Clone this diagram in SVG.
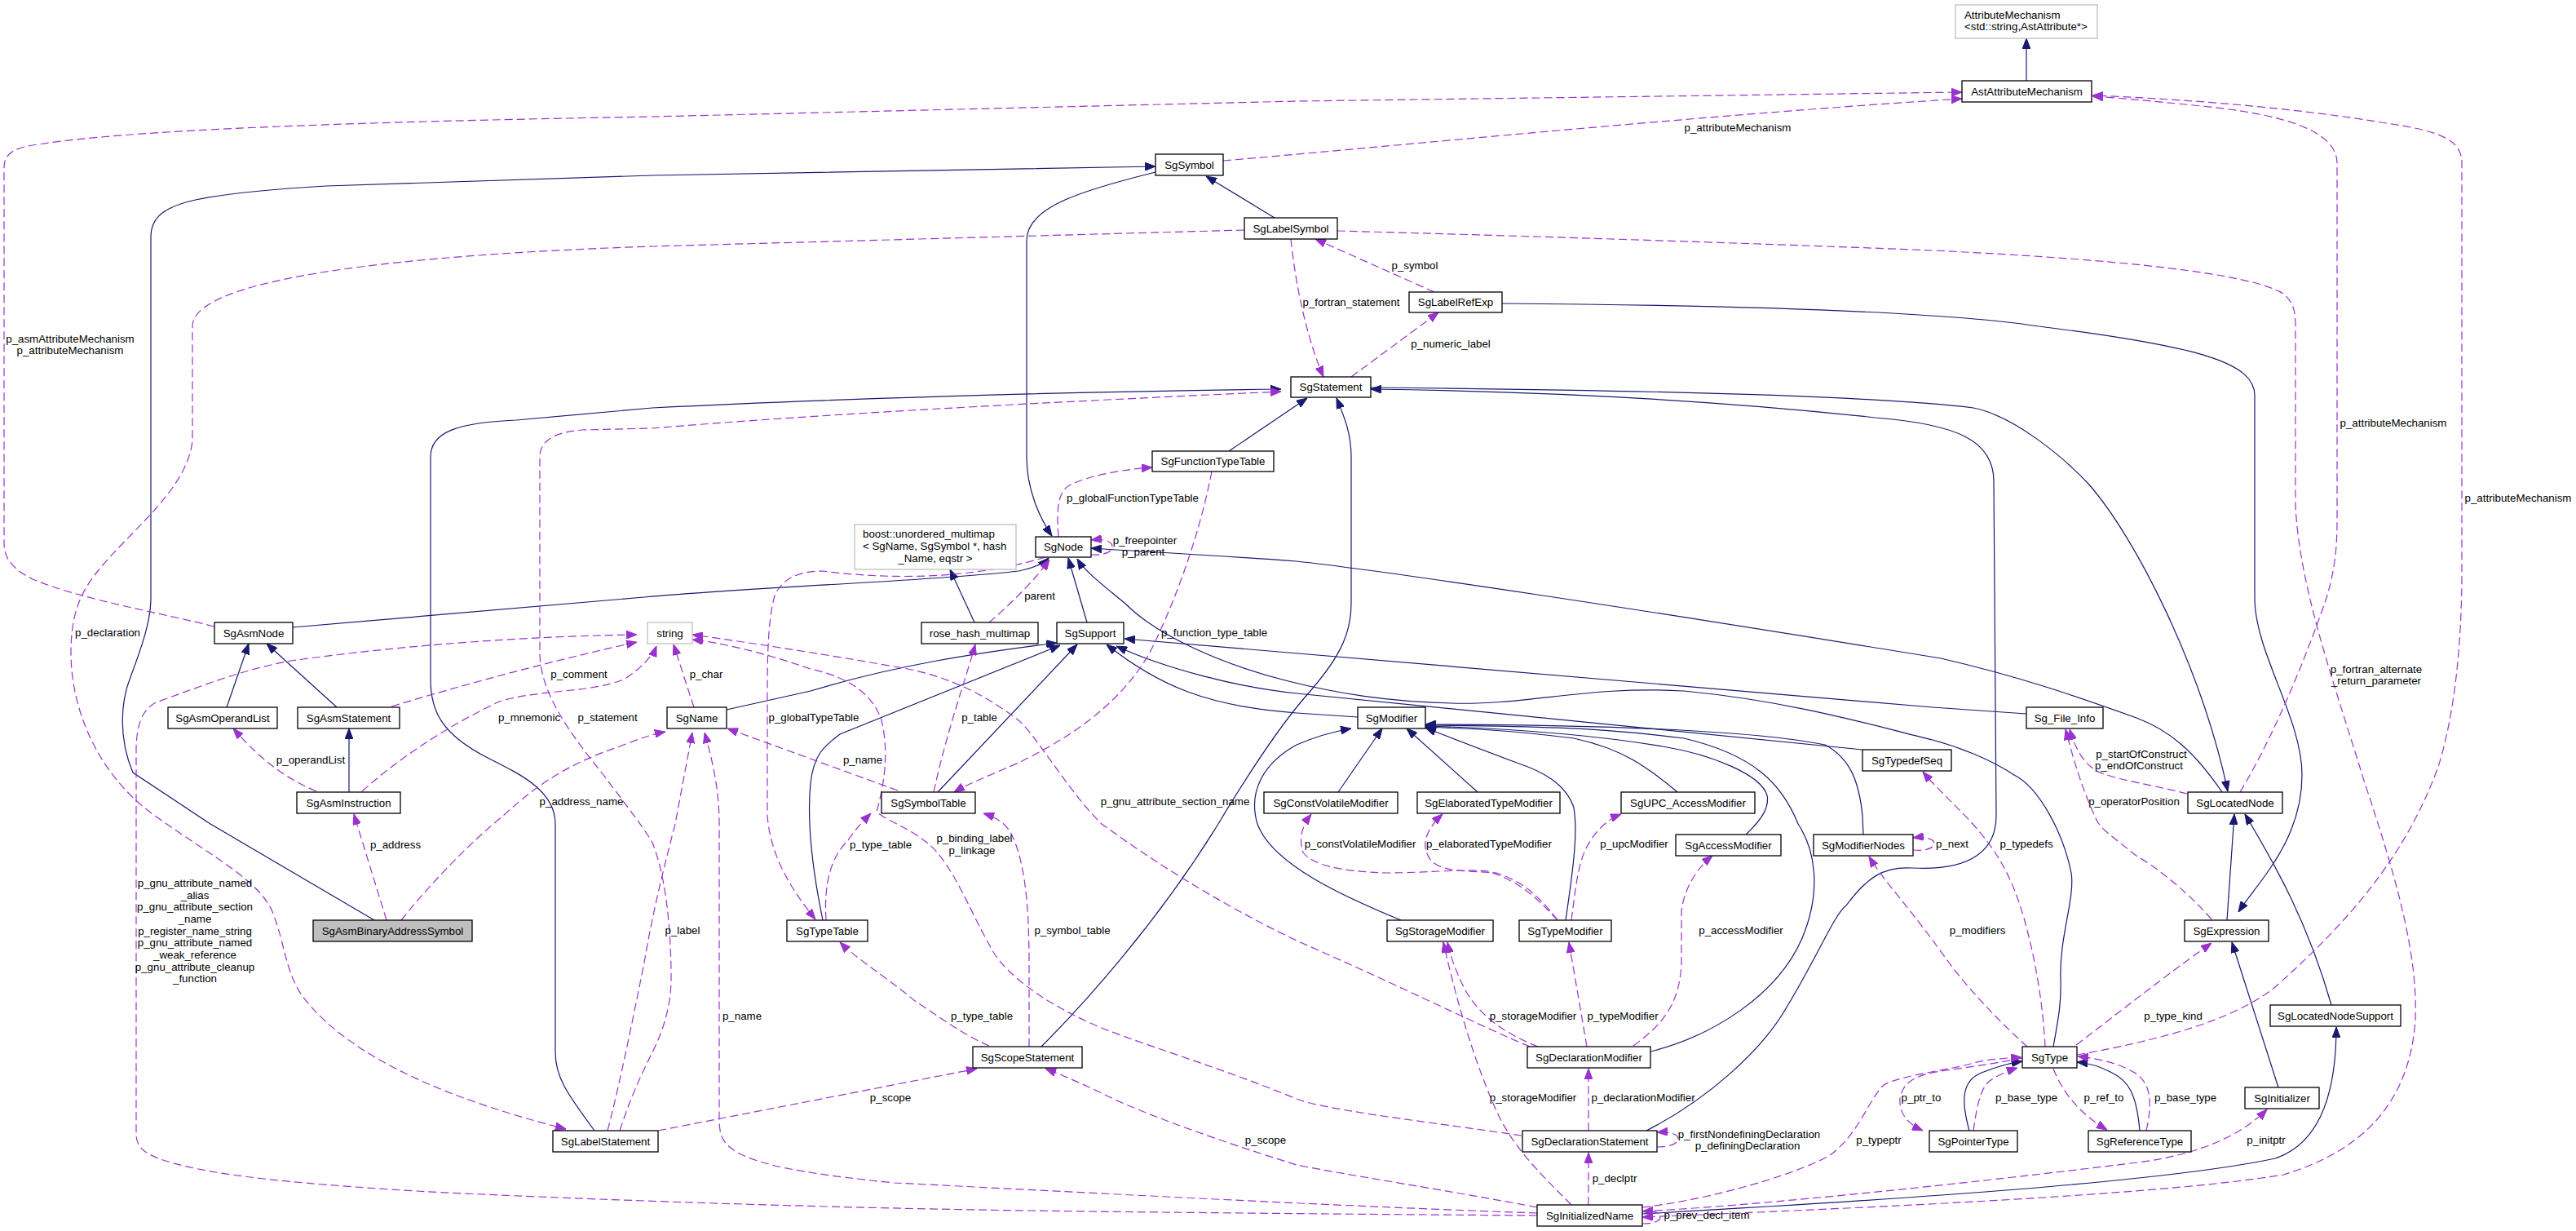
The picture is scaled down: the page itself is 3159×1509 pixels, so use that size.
<svg xmlns="http://www.w3.org/2000/svg" width="3159" height="1509" viewBox="0 0 3159 1509">
<style>
text{font-family:"Liberation Sans",Arial,Helvetica,sans-serif;font-size:13.3px;fill:#000}
.n rect{fill:#fff;stroke:#000;stroke-width:1.3}
.n.g rect{stroke:#bfbfbf}
.n.h rect{fill:#bfbfbf}
.n text{text-anchor:middle}
.e path{fill:none;stroke-width:1.2}
.e .i{stroke:#191970;marker-end:url(#ab)}
.e .u{stroke:#9a32cd;stroke-dasharray:10,5;marker-end:url(#ap)}
.lb text{text-anchor:middle}
</style>
<defs>
<marker id="ab" markerWidth="13" markerHeight="10" refX="13" refY="5" orient="auto" markerUnits="userSpaceOnUse"><path d="M0,0 L13,5 L0,10 z" fill="#191970" stroke="#191970" stroke-width="1"/></marker>
<marker id="ap" markerWidth="13" markerHeight="10" refX="13" refY="5" orient="auto" markerUnits="userSpaceOnUse"><path d="M0,0 L13,5 L0,10 z" fill="#9a32cd" stroke="#9a32cd" stroke-width="1"/></marker>
</defs>
<rect width="3159" height="1509" fill="#fff"/>
<g id="connectors" class="e">
<path class="i" d="M2485,99 L2485,47"/>
<path class="i" d="M459,1128 L258,1010 L163,947 C145,905 148,860 160,830 C175,790 185,760 185,733 L185,290 C185,250 230,238 400,228 L800,215 L1417,204"/>
<path class="i" d="M1563,267 L1479,216"/>
<path class="i" d="M1417,211 C1320,235 1259,255 1259,295 L1259,560 C1259,600 1275,635 1290,657"/>
<path class="i" d="M359,769 L790,732 C950,718 1150,712 1249,700 C1265,697 1278,692 1286,684"/>
<path class="i" d="M1333,763 L1310,684"/>
<path class="i" d="M1195,763 L1165,698"/>
<path class="i" d="M891,870 L994,847 C1100,815 1200,800 1296,788"/>
<path class="i" d="M1150,971 L1321,790"/>
<path class="i" d="M1009,1128 C995,1060 990,1000 994,960 C998,925 1010,915 1030,900 L1300,791"/>
<path class="i" d="M1507,553 L1603,488"/>
<path class="i" d="M1277,1283 C1330,1230 1420,1130 1494,1010 C1530,950 1570,890 1600,855 C1640,810 1657,780 1657,740 L1657,560 C1657,530 1648,510 1639,488"/>
<path class="i" d="M729,1386 C695,1340 681,1320 681,1290 L681,1010 C681,970 640,950 600,930 C540,900 528,870 528,833 L528,560 C528,530 560,518 633,515 L800,500 C1000,490 1300,480 1571,477"/>
<path class="i" d="M1842,372 C2100,374 2370,380 2500,400 C2700,425 2765,445 2765,485 L2765,733 C2765,800 2823,880 2823,950 C2823,1030 2770,1080 2745,1118"/>
<path class="i" d="M1681,475 C2000,478 2300,485 2420,500 C2470,510 2530,560 2561,593 C2620,660 2700,820 2732,970"/>
<path class="i" d="M2019,1386 C2090,1350 2160,1290 2192,1233 C2230,1170 2250,1120 2264,1110 C2290,1075 2310,1062 2345,1064 C2420,1068 2448,1040 2448,1000 L2445,590 C2445,540 2400,520 2300,512 C2100,490 1900,480 1681,477"/>
<path class="i" d="M2725,971 C2690,920 2660,895 2620,880 C2550,855 2480,830 2380,807 C2000,745 1700,700 1590,688 C1480,680 1400,676 1338,672"/>
<path class="i" d="M2518,1283 C2524,1250 2528,1230 2527,1200 C2525,1150 2545,1100 2540,1070 C2530,1020 2500,965 2470,950 C2440,930 2400,915 2370,907 C2300,890 2200,860 2065,847 C1950,840 1870,865 1780,862 C1700,860 1640,850 1580,835 C1500,815 1420,780 1380,740 C1350,715 1330,700 1321,685"/>
<path class="i" d="M2284,919 L1590,850 C1520,843 1430,820 1369,792"/>
<path class="i" d="M1665,879 L1590,874 C1480,866 1420,840 1357,790"/>
<path class="i" d="M2485,875 L2370,867 L1580,800 L1379,783"/>
<path class="i" d="M1641,971 L1695,893"/>
<path class="i" d="M1812,971 L1725,893"/>
<path class="i" d="M1718,1128 C1650,1100 1560,1060 1542,1010 C1530,970 1550,935 1590,913 C1620,900 1640,896 1657,893"/>
<path class="i" d="M1920,1128 C1930,1060 1935,1020 1930,990 C1920,960 1890,945 1860,935 C1820,920 1780,905 1748,892"/>
<path class="i" d="M2057,971 C2020,940 1990,918 1930,905 C1850,895 1800,893 1748,891"/>
<path class="i" d="M2141,1023 C2160,1005 2170,990 2167,975 C2160,950 2100,925 2039,915 C1950,900 1850,893 1748,890"/>
<path class="i" d="M2024,1289 C2100,1270 2180,1220 2210,1150 C2235,1090 2225,1040 2205,1010 C2185,960 2150,925 2065,905 C1950,890 1850,890 1748,889"/>
<path class="i" d="M2285,1023 L2284,1000 C2280,960 2270,930 2238,913 C2150,895 1950,888 1748,888"/>
<path class="i" d="M2415,1386 C2405,1350 2405,1325 2430,1315 C2450,1307 2465,1303 2480,1301"/>
<path class="i" d="M2624,1386 C2620,1340 2610,1325 2590,1315 C2575,1307 2560,1303 2547,1302"/>
<path class="i" d="M2731,1128 L2740,998"/>
<path class="i" d="M2859,1232 C2830,1130 2790,1060 2753,998"/>
<path class="i" d="M2794,1333 L2737,1155"/>
<path class="i" d="M2014,1488 C2300,1472 2650,1450 2790,1420 C2850,1400 2865,1330 2865,1259"/>
<path class="i" d="M278,867 L305,789"/>
<path class="i" d="M413,867 L327,789"/>
<path class="i" d="M428,971 L428,893"/>

<path class="u" d="M263,768 C200,752 100,735 40,710 C10,695 5,680 5,665 L5,205 C5,190 15,182 40,178 C150,160 400,150 800,143 L1590,124 L2406,113"/>
<path class="u" d="M1500,197 C1700,180 2100,140 2406,121"/>
<path class="u" d="M2747,971 C2790,900 2830,800 2853,733 C2866,690 2866,660 2866,630 L2866,200 C2866,160 2800,140 2700,130 C2640,124 2600,120 2566,118"/>
<path class="u" d="M2547,1293 C2650,1275 2740,1250 2790,1210 C2880,1130 2950,1050 2990,940 C3015,860 3019,760 3019,700 L3019,200 C3019,170 2990,160 2920,150 C2800,130 2650,120 2566,117"/>
<path class="u" d="M1583,293 C1590,360 1605,420 1623,462"/>
<path class="u" d="M1759,358 L1613,293"/>
<path class="u" d="M1657,462 L1764,383"/>
<path class="u" d="M1526,282 L800,302 C500,312 236,340 236,400 L236,540 C230,600 160,650 120,700 C95,730 87,760 87,800 C87,870 120,950 190,1000 C260,1050 320,1080 335,1120 C350,1160 350,1190 370,1220 C430,1300 560,1350 694,1384"/>
<path class="u" d="M1640,283 C1900,290 2200,300 2370,307 C2600,318 2760,335 2800,360 C2812,370 2815,380 2815,400 L2815,620 C2820,720 2860,830 2900,960 C2940,1080 2965,1170 2962,1250 C2955,1350 2900,1410 2800,1440 C2650,1465 2300,1480 2014,1492"/>
<path class="u" d="M1298,658 C1295,620 1298,600 1315,593 C1340,582 1380,575 1413,573"/>
<path class="u" d="M1338,680 C1355,681 1364,676 1364,670 C1364,664 1355,660 1338,662"/>
<path class="u" d="M1213,763 C1240,740 1270,710 1287,686"/>
<path class="u" d="M1486,578 C1470,660 1440,740 1410,800 C1370,870 1300,910 1249,935 C1210,952 1185,962 1170,971"/>
<path class="u" d="M1145,971 C1160,900 1185,830 1196,790"/>
<path class="u" d="M851,867 L826,790"/>
<path class="u" d="M1101,969 L892,893"/>
<path class="u" d="M1282,683 C1200,708 1100,712 1009,700 C975,700 958,712 950,730 C942,760 941,800 941,850 L941,1000 C945,1050 970,1090 1000,1127"/>
<path class="u" d="M1013,1128 C1010,1080 1020,1050 1040,1030 C1050,1015 1060,1005 1068,997"/>
<path class="u" d="M1866,1392 C1750,1375 1620,1360 1590,1347 C1500,1310 1400,1280 1351,1260 C1290,1235 1240,1200 1220,1170 C1190,1120 1170,1060 1137,1033 C1110,1012 1085,1005 1075,995 C1085,960 1090,920 1081,883 C1070,850 1040,830 994,820 C950,805 900,790 849,784"/>
<path class="u" d="M1262,1283 L1262,1180 C1262,1100 1255,1050 1239,1020 C1230,1005 1215,1000 1206,997"/>
<path class="u" d="M1213,1282 C1180,1268 1150,1245 1122,1227 C1090,1200 1050,1175 1030,1155"/>
<path class="u" d="M807,1386 L1198,1310"/>
<path class="u" d="M1885,1480 C1780,1460 1650,1440 1590,1428 C1500,1400 1400,1365 1351,1340 C1320,1325 1295,1315 1282,1310"/>
<path class="u" d="M745,1386 C760,1330 780,1230 790,1180 C800,1120 815,1060 828,1010 L849,898"/>
<path class="u" d="M760,1386 C775,1340 790,1310 800,1290 C815,1260 823,1230 823,1200 C823,1130 815,1070 800,1033 C790,1015 770,990 740,950 C700,900 662,850 662,800 L662,560 C662,540 680,530 714,527 L800,525 C1000,508 1300,492 1571,480"/>
<path class="u" d="M1885,1487 C1600,1477 1300,1460 1096,1450 C1000,1440 930,1430 900,1410 C885,1400 882,1390 882,1370 L882,1010 C882,960 870,920 864,898"/>
<path class="u" d="M492,1128 C530,1080 580,1030 617,1000 C660,960 700,935 760,915 C785,905 800,900 816,897"/>
<path class="u" d="M474,1128 L434,998"/>
<path class="u" d="M388,970 C340,950 310,920 286,893"/>
<path class="u" d="M444,970 C500,920 560,885 612,860 C660,845 720,850 765,833 C785,820 800,805 805,792"/>
<path class="u" d="M480,866 C600,830 700,805 781,787"/>
<path class="u" d="M1885,1490 C1600,1488 1300,1485 1198,1483 C900,1478 600,1465 510,1460 C350,1450 250,1440 194,1420 C175,1412 167,1405 167,1390 L167,920 C167,880 180,865 194,860 C250,840 300,820 357,810 C500,790 650,780 781,778"/>
<path class="u" d="M1927,1477 C1880,1430 1850,1400 1830,1350 C1800,1280 1780,1200 1770,1155"/>
<path class="u" d="M1886,1283 C1840,1265 1810,1240 1795,1210 C1785,1190 1778,1170 1775,1155"/>
<path class="u" d="M1946,1283 L1924,1155"/>
<path class="u" d="M2003,1282 C2040,1255 2060,1230 2062,1180 L2062,1117 C2065,1090 2080,1065 2100,1049"/>
<path class="u" d="M1948,1386 L1948,1310"/>
<path class="u" d="M1948,1477 L1948,1413"/>
<path class="u" d="M2032,1406 C2050,1406 2058,1401 2058,1396 C2058,1391 2050,1387 2032,1388"/>
<path class="u" d="M2014,1500 C2030,1500 2036,1496 2036,1492 C2036,1487 2030,1484 2014,1485"/>
<path class="u" d="M1910,1128 C1880,1095 1860,1080 1825,1068 C1790,1065 1750,1070 1700,1070 C1640,1068 1610,1060 1598,1045 C1593,1030 1595,1015 1608,998"/>
<path class="u" d="M1910,1128 C1885,1095 1865,1080 1835,1070 C1800,1067 1770,1070 1755,1055 C1743,1040 1745,1020 1769,998"/>
<path class="u" d="M1927,1128 C1932,1090 1935,1060 1945,1040 C1955,1020 1970,1005 1988,998"/>
<path class="u" d="M2346,1042 C2362,1044 2372,1039 2372,1034 C2372,1029 2362,1025 2346,1027"/>
<path class="u" d="M2486,1283 C2460,1260 2420,1220 2390,1180 C2340,1110 2310,1080 2292,1050"/>
<path class="u" d="M2508,1283 C2505,1220 2490,1140 2470,1090 C2450,1040 2420,1010 2395,985 C2380,970 2368,958 2358,946"/>
<path class="u" d="M2546,1281 C2600,1240 2650,1200 2712,1156"/>
<path class="u" d="M2712,1127 C2680,1090 2640,1060 2621,1050 C2590,1025 2575,1015 2571,1005 C2550,960 2540,920 2533,894"/>
<path class="u" d="M2682,973 C2640,962 2590,955 2571,945 C2555,935 2546,920 2538,894"/>
<path class="u" d="M2480,1297 C2440,1305 2400,1310 2380,1313 C2350,1318 2335,1325 2330,1345 C2328,1365 2340,1378 2358,1386"/>
<path class="u" d="M2014,1480 C2100,1470 2200,1440 2243,1417 C2280,1390 2290,1350 2310,1330 C2330,1318 2400,1310 2420,1303 C2440,1298 2460,1297 2479,1296"/>
<path class="u" d="M2518,1310 C2530,1340 2550,1365 2584,1385"/>
<path class="u" d="M2632,1386 C2640,1350 2637,1330 2621,1317 C2600,1303 2570,1297 2548,1295"/>
<path class="u" d="M2420,1386 C2425,1350 2430,1333 2440,1325 C2450,1318 2462,1313 2474,1309"/>
<path class="u" d="M2014,1485 C2200,1475 2500,1440 2621,1425 C2700,1415 2750,1390 2780,1360"/>
<path class="u" d="M1876,1283 C1820,1260 1720,1210 1590,1153 C1500,1110 1420,1060 1351,1010 C1310,970 1270,900 1249,883 C1200,845 1150,825 1096,817 C1000,800 900,785 849,778"/>

<g class="lb">
<text x="86" y="419.5">p_asmAttributeMechanism</text>
<text x="86" y="433.5">p_attributeMechanism</text>
<text x="2131" y="161">p_attributeMechanism</text>
<text x="2935" y="523">p_attributeMechanism</text>
<text x="3088" y="614.5">p_attributeMechanism</text>
<text x="1657" y="374.5">p_fortran_statement</text>
<text x="1735" y="329.5">p_symbol</text>
<text x="1779" y="426">p_numeric_label</text>
<text x="132" y="779.5">p_declaration</text>
<text x="2914" y="824.5">p_fortran_alternate</text>
<text x="2914" y="839">_return_parameter</text>
<text x="1389" y="614.5">p_globalFunctionTypeTable</text>
<text x="1404" y="667">p_freepointer</text>
<text x="1402" y="681">p_parent</text>
<text x="1275" y="734.5">parent</text>
<text x="1489" y="779.5">p_function_type_table</text>
<text x="1201" y="883.5">p_table</text>
<text x="866" y="831">p_char</text>
<text x="1058" y="935.5">p_name</text>
<text x="998" y="883.5">p_globalTypeTable</text>
<text x="1080" y="1039.5">p_type_table</text>
<text x="1195" y="1032">p_binding_label</text>
<text x="1192" y="1047">p_linkage</text>
<text x="1315" y="1145">p_symbol_table</text>
<text x="1204" y="1249.5">p_type_table</text>
<text x="1092" y="1350">p_scope</text>
<text x="1552" y="1402">p_scope</text>
<text x="837" y="1145">p_label</text>
<text x="745" y="883.5">p_statement</text>
<text x="910" y="1249.5">p_name</text>
<text x="713" y="987">p_address_name</text>
<text x="485" y="1039.5">p_address</text>
<text x="381" y="935.5">p_operandList</text>
<text x="649" y="883.5">p_mnemonic</text>
<text x="710" y="831">p_comment</text>
<text x="239" y="1086.5">p_gnu_attribute_named</text>
<text x="239" y="1101.5">_alias</text>
<text x="239" y="1115.5">p_gnu_attribute_section</text>
<text x="239" y="1130.5">_name</text>
<text x="239" y="1145.5">p_register_name_string</text>
<text x="239" y="1159.5">p_gnu_attribute_named</text>
<text x="239" y="1174.5">_weak_reference</text>
<text x="239" y="1189.5">p_gnu_attribute_cleanup</text>
<text x="239" y="1203.5">_function</text>
<text x="1880" y="1350">p_storageModifier</text>
<text x="1880" y="1249.5">p_storageModifier</text>
<text x="1990" y="1249.5">p_typeModifier</text>
<text x="2135" y="1145">p_accessModifier</text>
<text x="2015" y="1350">p_declarationModifier</text>
<text x="1980" y="1449">p_declptr</text>
<text x="2145" y="1395">p_firstNondefiningDeclaration</text>
<text x="2143" y="1409">p_definingDeclaration</text>
<text x="2093" y="1494">p_prev_decl_item</text>
<text x="1668" y="1038.5">p_constVolatileModifier</text>
<text x="1826" y="1038.5">p_elaboratedTypeModifier</text>
<text x="2004" y="1038.5">p_upcModifier</text>
<text x="2394" y="1038.5">p_next</text>
<text x="2425" y="1145">p_modifiers</text>
<text x="2485" y="1038.5">p_typedefs</text>
<text x="2665" y="1249.5">p_type_kind</text>
<text x="2617" y="987">p_operatorPosition</text>
<text x="2626" y="928.5">p_startOfConstruct</text>
<text x="2623" y="943">p_endOfConstruct</text>
<text x="2356" y="1350">p_ptr_to</text>
<text x="2304" y="1402">p_typeptr</text>
<text x="2580" y="1350">p_ref_to</text>
<text x="2680" y="1350">p_base_type</text>
<text x="2485" y="1350">p_base_type</text>
<text x="2779" y="1402">p_initptr</text>
<text x="1441" y="987">p_gnu_attribute_section_name</text>
</g>
</g>

<g id="n-AttributeMechanism" class="n g"><rect x="2398" y="6" width="174" height="41"/><text x="2409" y="23" style="text-anchor:start">AttributeMechanism</text><text x="2409" y="37" style="text-anchor:start">&lt;std::string,AstAttribute*&gt;</text></g>
<g id="n-AstAttributeMechanism" class="n"><rect x="2406" y="99" width="159" height="26"/><text x="2485.5" y="116.5">AstAttributeMechanism</text></g>
<g id="n-SgSymbol" class="n"><rect x="1417" y="189" width="83" height="26"/><text x="1458.5" y="206.5">SgSymbol</text></g>
<g id="n-SgLabelSymbol" class="n"><rect x="1526" y="267" width="114" height="26"/><text x="1583" y="284.5">SgLabelSymbol</text></g>
<g id="n-SgLabelRefExp" class="n"><rect x="1728" y="358" width="114" height="25"/><text x="1785" y="375">SgLabelRefExp</text></g>
<g id="n-SgStatement" class="n"><rect x="1583" y="462" width="98" height="25"/><text x="1632" y="479">SgStatement</text></g>
<g id="n-SgFunctionTypeTable" class="n"><rect x="1413" y="553" width="149" height="25"/><text x="1487.5" y="570">SgFunctionTypeTable</text></g>
<g id="n-SgNode" class="n"><rect x="1270" y="658" width="68" height="25"/><text x="1304" y="675">SgNode</text></g>
<g id="n-boost_unordered_multimap" class="n g"><rect x="1048" y="643" width="198" height="55"/><text x="1058" y="659" style="text-anchor:start">boost::unordered_multimap</text><text x="1058" y="673.5" style="text-anchor:start">&lt; SgName, SgSymbol *, hash</text><text x="1147" y="688.5">_Name, eqstr &gt;</text></g>
<g id="n-rose_hash_multimap" class="n"><rect x="1130" y="763" width="143" height="26"/><text x="1201.5" y="780.5">rose_hash_multimap</text></g>
<g id="n-SgSupport" class="n"><rect x="1296" y="763" width="82" height="26"/><text x="1337" y="780.5">SgSupport</text></g>
<g id="n-SgAsmNode" class="n"><rect x="263" y="763" width="96" height="26"/><text x="311" y="780.5">SgAsmNode</text></g>
<g id="n-string" class="n g"><rect x="794" y="763" width="55" height="26"/><text x="821.5" y="780.5">string</text></g>
<g id="n-SgAsmOperandList" class="n"><rect x="206" y="867" width="134" height="26"/><text x="273" y="884.5">SgAsmOperandList</text></g>
<g id="n-SgAsmStatement" class="n"><rect x="365" y="867" width="125" height="26"/><text x="427.5" y="884.5">SgAsmStatement</text></g>
<g id="n-SgName" class="n"><rect x="818" y="867" width="73" height="26"/><text x="854.5" y="884.5">SgName</text></g>
<g id="n-SgModifier" class="n"><rect x="1665" y="867" width="83" height="26"/><text x="1706.5" y="884.5">SgModifier</text></g>
<g id="n-Sg_File_Info" class="n"><rect x="2485" y="867" width="94" height="26"/><text x="2532" y="884.5">Sg_File_Info</text></g>
<g id="n-SgTypedefSeq" class="n"><rect x="2284" y="919" width="109" height="26"/><text x="2338.5" y="936.5">SgTypedefSeq</text></g>
<g id="n-SgAsmInstruction" class="n"><rect x="364" y="971" width="127" height="26"/><text x="427.5" y="988.5">SgAsmInstruction</text></g>
<g id="n-SgSymbolTable" class="n"><rect x="1081" y="971" width="115" height="26"/><text x="1138.5" y="988.5">SgSymbolTable</text></g>
<g id="n-SgConstVolatileModifier" class="n"><rect x="1550" y="971" width="164" height="26"/><text x="1632" y="988.5">SgConstVolatileModifier</text></g>
<g id="n-SgElaboratedTypeModifier" class="n"><rect x="1738" y="971" width="175" height="26"/><text x="1825.5" y="988.5">SgElaboratedTypeModifier</text></g>
<g id="n-SgUPC_AccessModifier" class="n"><rect x="1988" y="971" width="164" height="26"/><text x="2070" y="988.5">SgUPC_AccessModifier</text></g>
<g id="n-SgLocatedNode" class="n"><rect x="2683" y="971" width="116" height="26"/><text x="2741" y="988.5">SgLocatedNode</text></g>
<g id="n-SgAccessModifier" class="n"><rect x="2055" y="1023" width="129" height="26"/><text x="2119.5" y="1040.5">SgAccessModifier</text></g>
<g id="n-SgModifierNodes" class="n"><rect x="2224" y="1023" width="122" height="26"/><text x="2285" y="1040.5">SgModifierNodes</text></g>
<g id="n-SgAsmBinaryAddressSymbol" class="n h"><rect x="384" y="1128" width="195" height="26"/><text x="481.5" y="1145.5">SgAsmBinaryAddressSymbol</text></g>
<g id="n-SgTypeTable" class="n"><rect x="965" y="1128" width="99" height="26"/><text x="1014.5" y="1145.5">SgTypeTable</text></g>
<g id="n-SgStorageModifier" class="n"><rect x="1701" y="1128" width="130" height="26"/><text x="1766" y="1145.5">SgStorageModifier</text></g>
<g id="n-SgTypeModifier" class="n"><rect x="1863" y="1128" width="113" height="26"/><text x="1919.5" y="1145.5">SgTypeModifier</text></g>
<g id="n-SgExpression" class="n"><rect x="2679" y="1128" width="103" height="26"/><text x="2730.5" y="1145.5">SgExpression</text></g>
<g id="n-SgLocatedNodeSupport" class="n"><rect x="2784" y="1232" width="160" height="26"/><text x="2864" y="1249.5">SgLocatedNodeSupport</text></g>
<g id="n-SgScopeStatement" class="n"><rect x="1193" y="1283" width="134" height="26"/><text x="1260" y="1300.5">SgScopeStatement</text></g>
<g id="n-SgDeclarationModifier" class="n"><rect x="1873" y="1283" width="151" height="26"/><text x="1948.5" y="1300.5">SgDeclarationModifier</text></g>
<g id="n-SgType" class="n"><rect x="2480" y="1283" width="67" height="26"/><text x="2513.5" y="1300.5">SgType</text></g>
<g id="n-SgInitializer" class="n"><rect x="2753" y="1333" width="91" height="26"/><text x="2798.5" y="1350.5">SgInitializer</text></g>
<g id="n-SgLabelStatement" class="n"><rect x="678" y="1386" width="129" height="26"/><text x="742.5" y="1403.5">SgLabelStatement</text></g>
<g id="n-SgDeclarationStatement" class="n"><rect x="1867" y="1386" width="165" height="26"/><text x="1949.5" y="1403.5">SgDeclarationStatement</text></g>
<g id="n-SgPointerType" class="n"><rect x="2366" y="1386" width="108" height="26"/><text x="2420" y="1403.5">SgPointerType</text></g>
<g id="n-SgReferenceType" class="n"><rect x="2561" y="1386" width="126" height="26"/><text x="2624" y="1403.5">SgReferenceType</text></g>
<g id="n-SgInitializedName" class="n"><rect x="1885" y="1477" width="129" height="26"/><text x="1949.5" y="1494.5">SgInitializedName</text></g>
</svg>
